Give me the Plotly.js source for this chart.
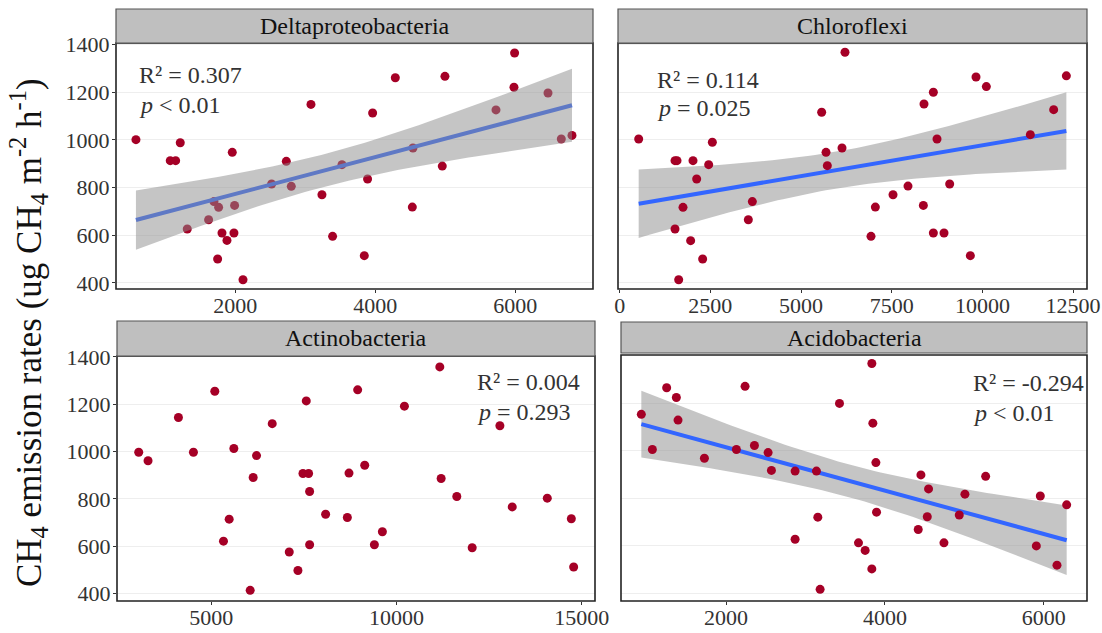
<!DOCTYPE html>
<html>
<head>
<meta charset="utf-8">
<script src="https://cdn.plot.ly/plotly-3.0.1.min.js"></script>
<style>html,body{margin:0;padding:0;background:#fff;}#chart{width:1102px;height:633px;}</style>
</head>
<body>
<div id="chart"></div>
<script>
// ---- Data ----
const panelNames = ["Deltaproteobacteria", "Chloroflexi", "Actinobacteria", "Acidobacteria"];
const r2Labels = ["R² = 0.307", "R² = 0.114", "R² = 0.004", "R² = -0.294"];
const pLabels = ["<i>p</i> &lt; 0.01", "<i>p</i> = 0.025", "<i>p</i> = 0.293", "<i>p</i> &lt; 0.01"];
const yTicks = [400, 600, 800, 1000, 1200, 1400];

const deltaX = [581,1071,1148,1214,1957,1314,1619,1695,1762,1810,1881,1748,1990,1981,2110,2519,2729,2800,3081,3238,3390,3524,3843,3890,3962,4286,4538,4529,4957,4995,5724,5981,5990,6467,6657,6810];
const deltaY = [1001,913,913,988,948,626,665,741,717,609,578,500,725,609,413,815,910,805,1149,770,595,896,514,836,1113,1261,966,718,890,1267,1126,1221,1365,1197,1004,1019];

const chloroX = [524,1526,1581,2022,2555,2454,2123,1746,1526,1957,2288,1627,3658,3547,5569,5689,5725,6130,6212,6929,7049,7536,7949,8372,8390,8648,8648,8749,8942,9098,9668,9824,10109,11322,11965,12315];
const chloroY = [1004,913,913,913,990,896,836,717,626,577,500,413,741,665,1116,948,892,966,1368,595,718,770,806,725,1151,1200,609,1004,609,815,514,1264,1224,1022,1127,1269];

const actinoX = [3045,3297,4117,4522,5099,5333,5487,5613,6054,6135,6225,6649,7108,7343,7478,7631,7568,7658,7658,8090,8676,8721,8955,9145,9406,9622,10217,11172,11208,11631,12046,12794,13127,14073,14722,14785];
const actinoY = [997,961,1144,997,1255,621,714,1013,413,890,983,1118,575,497,907,907,1214,831,606,735,721,909,1261,942,606,661,1192,1358,886,810,593,1109,766,803,716,512];

const acidoX = [933,1072,1252,1374,1395,1727,2130,2239,2357,2529,2571,2869,2869,3138,3155,3184,3428,3667,3751,3835,3848,3835,3886,3894,4419,4453,4549,4533,4743,4936,5007,5268,5906,5956,6166,6288];
const acidoY = [1154,1006,1266,1225,1130,969,1006,1272,1023,993,918,915,628,915,721,417,1200,613,581,1368,1117,503,951,742,669,899,840,723,613,730,818,893,600,810,519,773];

const xTicks = [[2000,4000,6000],[0,2500,5000,7500,10000,12500],[5000,10000,15000],[2000,4000,6000]];

// ---- Styling / layout ----
const FONT = '"Liberation Serif"';
const ptColor = "#a50026";
const lineColor = "#3366ff";
const bandColor = "rgba(140,140,140,0.5)";
const W = 1102, H = 633;
const px = v => v / W, py = v => 1 - v / H;

const panels = [
  {x: deltaX, y: deltaY, fit: true, bandOnTop: true, dom: [116,593,43,289], strip: [116,593,9,43], xr: [296,7110], yr: [374,1407], showY: true, ann: [0.044, 0.87, 0.748]},
  {x: chloroX, y: chloroY, fit: true, bandOnTop: false, dom: [618,1087,43,289], strip: [618,1087,9,43], xr: [-46,12884], yr: [374,1407], showY: false, ann: [0.079, 0.85, 0.736]},
  {x: actinoX, y: actinoY, fit: false, dom: [117,595,356,601], strip: [117,595,321,356], xr: [2459,15361], yr: [368,1404], showY: true, ann: [0.749, 0.895, 0.773]},
  {x: acidoX, y: acidoY, fit: true, bandOnTop: false, dom: [621,1087,355,601], strip: [621,1087,322,353], xr: [677,6544], yr: [368,1404], showY: false, ann: [0.75, 0.886, 0.763]}
];

function regression(xs, ys) {
  const n = xs.length;
  const mx = xs.reduce((a,b)=>a+b,0)/n, my = ys.reduce((a,b)=>a+b,0)/n;
  let sxx = 0, sxy = 0;
  for (let i=0;i<n;i++){ sxx += (xs[i]-mx)**2; sxy += (xs[i]-mx)*(ys[i]-my); }
  const b = sxy/sxx, a = my - b*mx;
  let sse = 0;
  for (let i=0;i<n;i++){ sse += (ys[i]-a-b*xs[i])**2; }
  const s = Math.sqrt(sse/(n-2));
  const t = 2.032;
  const xmin = Math.min(...xs), xmax = Math.max(...xs);
  const gx = [], gy = [], lo = [], hi = [];
  for (let k=0;k<=80;k++){
    const x = xmin + (xmax-xmin)*k/80;
    const yh = a + b*x;
    const se = s*Math.sqrt(1/n + (x-mx)**2/sxx);
    gx.push(x); gy.push(yh); lo.push(yh - t*se); hi.push(yh + t*se);
  }
  return {gx, gy, lo, hi};
}

const traces = [];
const layout = {
  width: W, height: H,
  margin: {l:0, r:0, t:0, b:0},
  paper_bgcolor: "#fff", plot_bgcolor: "#fff",
  showlegend: false,
  font: {family: FONT, color: "#333"},
  shapes: [], annotations: []
};

panels.forEach((p, i) => {
  const n = i + 1;
  const xa = n === 1 ? "x" : "x" + n, ya = n === 1 ? "y" : "y" + n;
  const xk = n === 1 ? "xaxis" : "xaxis" + n, yk = n === 1 ? "yaxis" : "yaxis" + n;
  const pts = {type: "scatter", mode: "markers", x: p.x, y: p.y, xaxis: xa, yaxis: ya,
    marker: {color: ptColor, size: 9}, hoverinfo: "skip"};
  if (p.fit) {
    const r = regression(p.x, p.y);
    const band = {type: "scatter", mode: "lines", x: r.gx.concat(r.gx.slice().reverse()),
      y: r.hi.concat(r.lo.slice().reverse()), fill: "toself", fillcolor: bandColor,
      line: {width: 0}, xaxis: xa, yaxis: ya, hoverinfo: "skip"};
    const line = {type: "scatter", mode: "lines", x: r.gx, y: r.gy, xaxis: xa, yaxis: ya,
      line: {color: lineColor, width: 4}, hoverinfo: "skip"};
    if (p.bandOnTop) { traces.push(pts, line, band); }
    else { traces.push(band, line, pts); }
  } else {
    traces.push(pts);
  }
  layout[xk] = {
    domain: [px(p.dom[0]), px(p.dom[1])], range: p.xr, anchor: ya,
    tickvals: xTicks[i], ticktext: xTicks[i].map(String),
    showgrid: false, zeroline: false, showline: false,
    ticks: "outside", ticklen: 3, tickcolor: "#333", tickwidth: 1,
    ticklabelstandoff: -6,
    tickfont: {family: FONT, size: 22, color: "#333"}
  };
  layout[yk] = {
    domain: [py(p.dom[3]), py(p.dom[2])], range: p.yr, anchor: xa,
    tickvals: yTicks, ticktext: yTicks.map(String), showticklabels: p.showY,
    showgrid: true, gridcolor: "#eeeeee", gridwidth: 1, zeroline: false, showline: false,
    ticks: p.showY ? "outside" : "", ticklen: 3, tickcolor: "#333", tickwidth: 1,
    ticklabelstandoff: -2,
    tickfont: {family: FONT, size: 22, color: "#333"}
  };
  layout.shapes.push({type: "rect", xref: "paper", yref: "paper",
    x0: px(p.dom[0]), x1: px(p.dom[1]), y0: py(p.dom[3]), y1: py(p.dom[2]),
    line: {color: "#222", width: 1.6}, fillcolor: "rgba(0,0,0,0)", layer: "above"});
  layout.shapes.push({type: "rect", xref: "paper", yref: "paper",
    x0: px(p.strip[0]), x1: px(p.strip[1]), y0: py(p.strip[3]), y1: py(p.strip[2]),
    line: {color: "#555", width: 1.2}, fillcolor: "#bfbfbf", layer: "above"});
  layout.annotations.push({xref: "paper", yref: "paper",
    x: px((p.strip[0]+p.strip[1])/2), y: py((p.strip[2]+p.strip[3])/2),
    text: panelNames[i], showarrow: false, xanchor: "center", yanchor: "middle",
    font: {family: FONT, size: 24, color: "#111"}});
  layout.annotations.push({xref: xa + " domain", yref: ya + " domain",
    x: p.ann[0], y: p.ann[1], text: r2Labels[i], showarrow: false,
    xanchor: "left", yanchor: "middle", font: {family: FONT, size: 24, color: "#333"}});
  layout.annotations.push({xref: xa + " domain", yref: ya + " domain",
    x: p.ann[0], y: p.ann[2], text: pLabels[i], showarrow: false,
    xanchor: "left", yanchor: "middle", font: {family: FONT, size: 24, color: "#333"}});
});

layout.annotations.push({xref: "paper", yref: "paper", x: px(28), y: py(333),
  text: "CH<sub>4</sub> emission rates (ug CH<sub>4</sub> m<sup>-2</sup> h<sup>-1</sup>)",
  textangle: -90, showarrow: false, xanchor: "center", yanchor: "middle",
  font: {family: FONT, size: 35, color: "#111"}});

Plotly.newPlot("chart", traces, layout, {staticPlot: true, displayModeBar: false});
</script>
</body>
</html>
